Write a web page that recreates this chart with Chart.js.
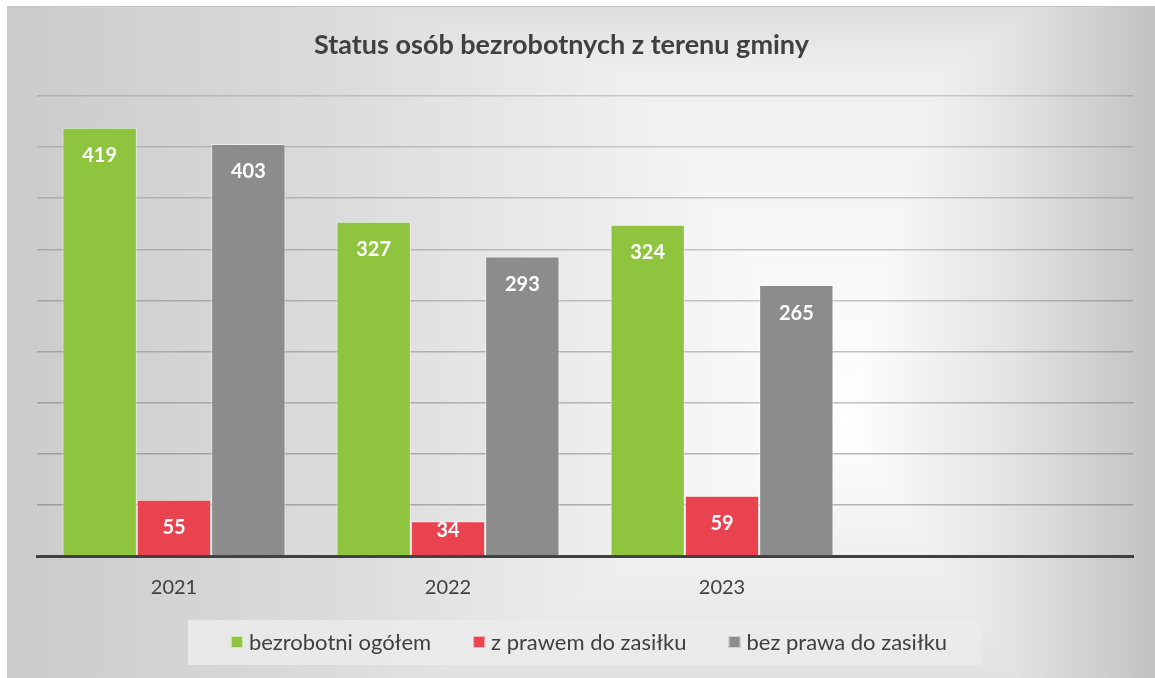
<!DOCTYPE html>
<html>
<head>
<meta charset="utf-8">
<script src="https://cdn.jsdelivr.net/npm/chart.js@4"></script>
<style>
  html, body { margin: 0; padding: 0; background: #fff; }
  #wrap {
    position: absolute; left: 7px; top: 6px; width: 1148px; height: 672px;
    border-top: 1px solid #c4c4c4;
    box-sizing: border-box;
    background:
      linear-gradient(to right, #cbcbcb 0%, #dbdbdb 28%, #f2f2f2 58%, #ffffff 73%, #e4e4e4 87%, #c2c2c2 100%),
      linear-gradient(to bottom, #dedede 0%, #efefef 10%, #ffffff 62%, #e2e2e2 100%);
    background-blend-mode: darken;
  }
</style>
</head>
<body>
<div id="wrap"><canvas id="chart"></canvas></div>
<script>
// dane
const chartTitle = 'Status osób bezrobotnych z terenu gminy';
const years = ['2021', '2022', '2023', ''];
const ogolem = [419, 327, 324, null];
const zPrawem = [55, 34, 59, null];
const bezPrawa = [403, 293, 265, null];
const seriesNames = ['bezrobotni ogółem', 'z prawem do zasiłku', 'bez prawa do zasiłku'];
const seriesColors = ['#8fc43f', '#e8434f', '#8c8c8c'];

const FONT = 'Lato, "Open Sans", sans-serif';

// tytuł rysowany ręcznie (lekko przesunięty w lewo jak w oryginale)
const titlePlugin = {
    id: 'customTitle',
    afterDraw(chart) {
        const ctx = chart.ctx;
        ctx.save();
        ctx.font = 'bold 27px ' + FONT;
        ctx.fillStyle = '#404040';
        ctx.textAlign = 'center';
        ctx.textBaseline = 'middle';
        ctx.fillText(chartTitle, chart.width * 0.483, 38);
        ctx.restore();
    }
};

// etykiety wartości wewnątrz słupków
const valueLabels = {
    id: 'valueLabels',
    afterDatasetsDraw(chart) {
        const ctx = chart.ctx;
        ctx.save();
        ctx.font = 'bold 20px ' + FONT;
        ctx.fillStyle = '#ffffff';
        ctx.textAlign = 'center';
        ctx.textBaseline = 'middle';
        chart.data.datasets.forEach((ds, i) => {
            chart.getDatasetMeta(i).data.forEach((bar, j) => {
                const v = ds.data[j];
                if (v == null) return;
                const h = bar.base - bar.y;
                const off = Math.min(28, h - 25);
                ctx.fillText(String(v), bar.x, bar.y + off);
            });
        });
        ctx.restore();
    }
};

// legenda w szarym prostokącie
const legendBox = {
    id: 'legendBox',
    afterDraw(chart) {
        const ctx = chart.ctx;
        ctx.save();
        ctx.font = '22px ' + FONT;
        const box = 12, gapText = 6, gapItem = 42;
        const widths = seriesNames.map(n => box + gapText + ctx.measureText(n).width);
        const total = widths.reduce((a, b) => a + b, 0) + gapItem * (widths.length - 1);
        const cy = 635;
        let x = 582 - total / 2;
        ctx.fillStyle = 'rgba(235,235,235,0.85)';
        ctx.fillRect(x - 43, cy - 22, total + 77, 45);
        ctx.textBaseline = 'middle';
        ctx.textAlign = 'left';
        chart.data.datasets.forEach((ds, i) => {
            ctx.fillStyle = ds.backgroundColor;
            ctx.fillRect(x, cy - 6, box, box);
            ctx.strokeStyle = 'rgba(255,255,255,0.6)';
            ctx.lineWidth = 1;
            ctx.strokeRect(x + 0.5, cy - 5.5, box - 1, box - 1);
            ctx.fillStyle = '#404040';
            ctx.fillText(ds.label, x + box + gapText, cy + 1);
            x += widths[i] + gapItem;
        });
        ctx.restore();
    }
};

function makeSet(i, data) {
    return {
        label: seriesNames[i],
        data: data,
        backgroundColor: seriesColors[i],
        borderColor: 'rgba(255,255,255,0.55)',
        borderWidth: 1,
        barPercentage: 1,
        categoryPercentage: 0.814
    };
}

new Chart(document.getElementById('chart'), {
    type: 'bar',
    data: {
        labels: years,
        datasets: [makeSet(0, ogolem), makeSet(1, zPrawem), makeSet(2, bezPrawa)]
    },
    options: {
        responsive: true,
        maintainAspectRatio: false,
        animation: false,
        layout: { padding: { top: 89, right: 22, left: 0, bottom: 0 } },
        plugins: {
            legend: { display: false },
            title: { display: false },
            tooltip: { enabled: false }
        },
        scales: {
            x: {
                grid: { display: false, drawTicks: false },
                border: { display: true, color: '#404040', width: 3 },
                ticks: { color: '#404040', font: { family: FONT, size: 20 }, padding: 20 },
                afterFit: s => { s.height = 122; }
            },
            y: {
                min: 0, max: 450,
                ticks: { stepSize: 50, display: false },
                grid: {
                    drawTicks: false,
                    lineWidth: 1.5,
                    color: c => {
                        const v = c.tick ? c.tick.value : 0;
                        const a = 0.45 - 0.2 * (v / 450);
                        return 'rgba(90,90,90,' + a.toFixed(3) + ')';
                    }
                },
                border: { display: false },
                afterFit: s => { s.width = 30; }
            }
        }
    },
    plugins: [titlePlugin, valueLabels, legendBox]
});
</script>
</body>
</html>
